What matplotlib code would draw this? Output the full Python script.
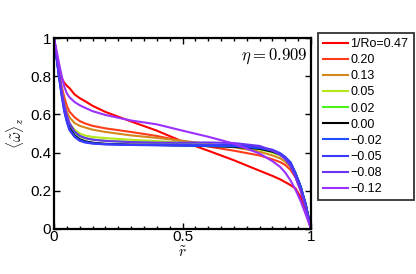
import matplotlib
matplotlib.use("Agg")
import matplotlib.pyplot as plt
from matplotlib.ticker import MultipleLocator, FuncFormatter

plt.rcParams['font.family'] = ['Liberation Sans', 'DejaVu Sans']
plt.rcParams['mathtext.fontset'] = 'cm'

r = [0, .01, .02, .03, .04, .05, .06, .08, .10, .12, .15, .20, .30, .40, .50,
     .60, .70, .80, .85, .88, .90, .92, .94, .96, .98, 1.0]

labels = ['1/Ro=0.47', '0.20', '0.13', '0.05', '0.02', '0.00',
          '\u22120.02', '\u22120.05', '\u22120.08', '\u22120.12']
colors = ['#ff0000', '#ff3b1a', '#d4881c', '#b5e619', '#4cf01a', '#000000',
          '#1f4dff', '#3a3aff', '#6a33f0', '#9b30ff']

w_047 = [1, .91, .835, .79, .765, .75, .738, .705, .685, .67, .645, .613, .563, .515, .458,
         .41, .36, .305, .278, .26, .245, .23, .212, .165, .085, 0]
w_020 = [1, .91, .82, .745, .69, .645, .615, .585, .565, .553, .54, .527, .508, .487, .46,
         .432, .41, .385, .365, .35, .335, .31, .27, .20, .11, 0]
w_013 = [1, .905, .81, .73, .665, .615, .585, .555, .54, .532, .52, .508, .49, .477, .462,
         .445, .428, .405, .385, .37, .352, .325, .28, .21, .115, 0]
w_005 = [1, .90, .80, .715, .645, .59, .555, .52, .50, .49, .482, .476, .467, .46, .452,
         .443, .433, .417, .40, .385, .37, .345, .29, .22, .125, 0]
w_002 = [1, .90, .80, .71, .635, .58, .54, .505, .485, .475, .468, .462, .455, .45, .445,
         .438, .432, .42, .405, .39, .373, .348, .292, .222, .127, 0]
w_000 = [1, .90, .80, .71, .63, .575, .53, .49, .47, .46, .452, .446, .442, .44, .437,
         .434, .43, .42, .405, .39, .372, .347, .29, .22, .125, 0]
w_m002 = [1, .895, .79, .70, .62, .565, .522, .485, .465, .456, .449, .444, .44, .438, .436,
          .435, .433, .424, .41, .393, .375, .35, .292, .222, .127, 0]
w_m005 = [1, .895, .79, .695, .615, .56, .518, .482, .462, .453, .447, .443, .44, .44, .44,
          .441, .44, .43, .415, .397, .377, .348, .288, .218, .122, 0]
w_m008 = [1, .91, .815, .725, .65, .595, .555, .51, .488, .477, .468, .461, .455, .452, .452,
          .453, .45, .435, .41, .388, .365, .33, .27, .20, .11, 0]
w_m012 = [1, .935, .865, .80, .745, .71, .69, .665, .648, .635, .617, .597, .568, .548, .515,
          .483, .447, .395, .355, .325, .295, .255, .205, .145, .075, 0]

series = [w_047, w_020, w_013, w_005, w_002, w_000, w_m002, w_m005, w_m008, w_m012]

fig = plt.figure(figsize=(4.16, 2.74), dpi=100)
ax = fig.add_axes([54/416, 1-229/274, (311-54)/416, (229-38)/274])

lines = []
for vals, lab, col in zip(series, labels, colors):
    ln, = ax.plot(r, vals, color=col, lw=1.5, label=lab)
    lines.append(ln)

ax.set_xlim(0, 1)
ax.set_ylim(0, 1)
ax.xaxis.set_major_locator(MultipleLocator(0.5))
ax.xaxis.set_minor_locator(MultipleLocator(0.05))
ax.yaxis.set_major_locator(MultipleLocator(0.2))
fmt = FuncFormatter(lambda v, p: '%g' % round(v, 3))
ax.xaxis.set_major_formatter(fmt)
ax.yaxis.set_major_formatter(fmt)
ax.tick_params(which='both', direction='in', top=True, right=True, labelsize=11)
ax.tick_params(axis='x', pad=1)
ax.tick_params(axis='y', pad=2)
ax.tick_params(which='major', length=4, width=1)
ax.tick_params(which='minor', length=2.5, width=1)
for s in ax.spines.values():
    s.set_linewidth(1.6)

ax.text(0.985, 0.955, r'$\eta = 0.909$', transform=ax.transAxes, ha='right', va='top', fontsize=12)
ax.set_xlabel(r'$\tilde{r}$', fontsize=11, labelpad=1)
ax.set_ylabel(r'$\langle\tilde{\omega}\rangle_z$', fontsize=11, labelpad=3)

leg = fig.legend(handles=lines, loc='upper left', bbox_to_anchor=(318/416, 1-33/274),
                 fontsize=9, frameon=True, fancybox=False, edgecolor='black',
                 handlelength=2.0, handletextpad=0.2, labelspacing=0.33,
                 borderpad=0.4, borderaxespad=0)
leg.get_frame().set_linewidth(1.3)

fig.savefig('out.png', dpi=100)
